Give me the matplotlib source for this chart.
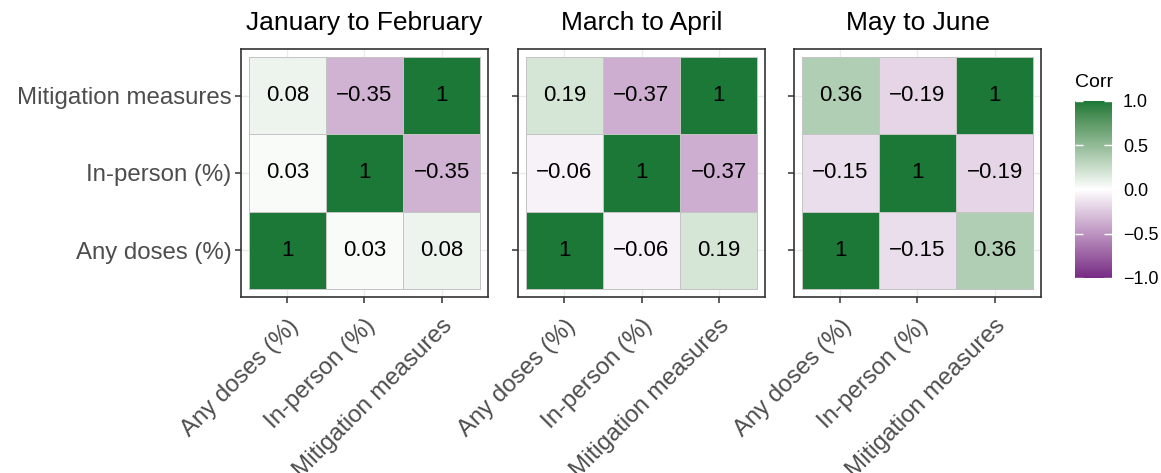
import numpy as np
import matplotlib.pyplot as plt
from matplotlib.colors import ListedColormap, Normalize, to_rgb

plt.rcParams['font.family'] = ['Liberation Sans', 'DejaVu Sans']

variables = ['Any doses (%)', 'In-person (%)', 'Mitigation measures']
periods = ['January to February', 'March to April', 'May to June']

# pairwise correlations per period: (doses~in-person, doses~mitigation, in-person~mitigation)
corr_doses_inperson = [0.03, -0.06, -0.15]
corr_doses_mitigation = [0.08, 0.19, 0.36]
corr_inperson_mitigation = [-0.35, -0.37, -0.19]

cbar_ticks = [-1.0, -0.5, 0.0, 0.5, 1.0]

LOW, MID, HIGH = '#762A83', '#FFFFFF', '#1B7837'

# diverging gradient interpolated in CIE Lab, like ggplot's scale_fill_gradient2
WHITE_D65 = np.array([0.95047, 1.0, 1.08883])
M_RGB2XYZ = np.array([[0.4124, 0.3576, 0.1805],
                      [0.2126, 0.7152, 0.0722],
                      [0.0193, 0.1192, 0.9505]])


def to_lab(c):
    rgb = np.array(to_rgb(c))
    lin = np.where(rgb <= 0.04045, rgb / 12.92, ((rgb + 0.055) / 1.055) ** 2.4)
    xyz = M_RGB2XYZ @ lin / WHITE_D65
    f = np.where(xyz > 0.008856, np.cbrt(xyz), 7.787 * xyz + 16 / 116)
    return np.array([116 * f[1] - 16, 500 * (f[0] - f[1]), 200 * (f[1] - f[2])])


def from_lab(lab):
    fy = (lab[1:2] * 0 + lab[0] + 16) / 116
    fx = fy + lab[1] / 500
    fz = fy - lab[2] / 200
    f = np.concatenate([fx, fy, fz])
    xyz = np.where(f ** 3 > 0.008856, f ** 3, (f - 16 / 116) / 7.787) * WHITE_D65
    lin = np.linalg.solve(M_RGB2XYZ, xyz)
    lin = np.clip(lin, 0, 1)
    rgb = np.where(lin <= 0.0031308, lin * 12.92, 1.055 * lin ** (1 / 2.4) - 0.055)
    return np.clip(rgb, 0, 1)


lab_low, lab_mid, lab_high = to_lab(LOW), to_lab(MID), to_lab(HIGH)
colors = []
for v in np.linspace(-1, 1, 513):
    end = lab_low if v < 0 else lab_high
    colors.append(from_lab(lab_mid + abs(v) * (end - lab_mid)))
cmap = ListedColormap(colors)
norm = Normalize(-1, 1)


def corr_matrix(i):
    a, b, c = corr_doses_inperson[i], corr_doses_mitigation[i], corr_inperson_mitigation[i]
    return np.array([[1, a, b],
                     [a, 1, c],
                     [b, c, 1]])


fig = plt.figure(figsize=(11.61, 4.73), dpi=100)

lefts = [0.2076, 0.4462, 0.6839]
bottom, width, height = 0.3721, 0.2127, 0.5243

for i, period in enumerate(periods):
    ax = fig.add_axes([lefts[i], bottom, width, height])
    m = corr_matrix(i)
    n = len(variables)
    edges = np.arange(n + 1) + 0.5
    ax.pcolormesh(edges, edges, m, cmap=cmap, norm=norm,
                  edgecolors='#C4C4C4', linewidth=0.6, zorder=2)
    for r in range(n):
        for c in range(n):
            v = m[r, c]
            txt = '1' if v == 1 else f'{v:.2f}'.replace('-', '\u2212')
            ax.text(c + 1, r + 1, txt, ha='center', va='center',
                    fontsize=16, color='black', zorder=3)
    ax.set_xlim(0.4, n + 0.6)
    ax.set_ylim(0.4, n + 0.6)
    ax.set_xticks(np.arange(1, n + 1))
    ax.set_yticks(np.arange(1, n + 1))
    ax.set_xticklabels(variables, rotation=45, ha='right', va='top',
                       rotation_mode='anchor', fontsize=17.3, color='#4D4D4D')
    if i == 0:
        ax.set_yticklabels(variables, fontsize=17.3, color='#4D4D4D')
    else:
        ax.set_yticklabels([])
    ax.grid(True, color='#EBEBEB', linewidth=1.0, zorder=0)
    ax.set_axisbelow(True)
    ax.tick_params(length=4, width=1.1, color='#333333', pad=3)
    ax.tick_params(axis='x', pad=9)
    for s in ax.spines.values():
        s.set_color('#333333')
        s.set_linewidth(1.2)
    ax.set_title(period, fontsize=19, color='black', pad=14)

# colour legend
cax = fig.add_axes([0.9259, 0.4123, 0.0319, 0.3742])
sm = plt.cm.ScalarMappable(cmap=cmap, norm=norm)
cb = fig.colorbar(sm, cax=cax, ticks=cbar_ticks)
cb.outline.set_visible(False)
cb.ax.set_yticklabels([f'{t:.1f}'.replace('-', '\u2212') for t in cbar_ticks])
cb.ax.tick_params(direction='in', length=6, width=1.0, color='white',
                  labelsize=13, labelcolor='black', left=True, right=True, pad=8)
cax.set_title('Corr', fontsize=14, loc='left', pad=10)

fig.savefig('out.png', dpi=100)
